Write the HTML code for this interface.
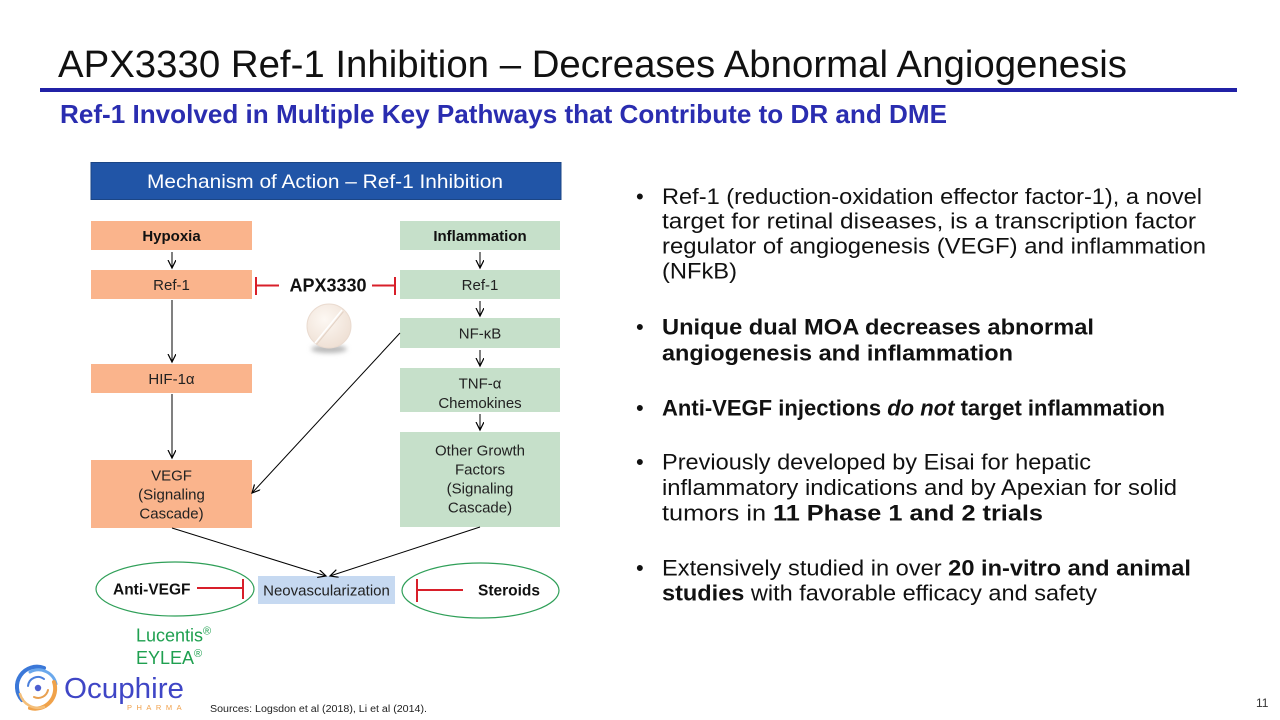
<!DOCTYPE html>
<html>
<head>
<meta charset="utf-8">
<style>
  html,body{margin:0;padding:0;background:#fff;}
  body{width:1280px;height:720px;overflow:hidden;}
  svg{display:block;font-family:"Liberation Sans",Arial,sans-serif;}
</style>
</head>
<body>
<svg width="1280" height="720" viewBox="0 0 1280 720" xmlns="http://www.w3.org/2000/svg">
  <defs>
    <marker id="ah" markerWidth="10" markerHeight="10" refX="8" refY="4" orient="auto" markerUnits="userSpaceOnUse">
      <path d="M0,0 L8,4 L0,8" fill="none" stroke="#000" stroke-width="1.2"/>
    </marker>
    <radialGradient id="pillg" cx="0.4" cy="0.35" r="0.7">
      <stop offset="0" stop-color="#fdf8f3"/>
      <stop offset="1" stop-color="#eedfd3"/>
    </radialGradient>
    <filter id="blur" x="-50%" y="-100%" width="200%" height="300%">
      <feGaussianBlur stdDeviation="2.5"/>
    </filter>
  </defs>

  <!-- Title -->
  <text x="58" y="77" font-size="38" fill="#111" textLength="1069" lengthAdjust="spacingAndGlyphs">APX3330 Ref-1 Inhibition – Decreases Abnormal Angiogenesis</text>
  <rect x="40" y="88" width="1197" height="4" fill="#2121a6"/>
  <text x="60" y="123" font-size="26" font-weight="bold" fill="#2a2db0" textLength="887" lengthAdjust="spacingAndGlyphs">Ref-1 Involved in Multiple Key Pathways that Contribute to DR and DME</text>

  <!-- Header bar -->
  <rect x="91" y="162.5" width="470" height="37" fill="#2155a7" stroke="#1b4585" stroke-width="1"/>
  <text x="147" y="188" font-size="19.5" fill="#fff" textLength="356" lengthAdjust="spacingAndGlyphs">Mechanism of Action – Ref-1 Inhibition</text>

  <!-- Boxes left (salmon) -->
  <g fill="#fab48c">
    <rect x="91" y="221" width="161" height="29"/>
    <rect x="91" y="270" width="161" height="29"/>
    <rect x="91" y="364" width="161" height="29"/>
    <rect x="91" y="460" width="161" height="68"/>
  </g>
  <!-- Boxes right (green) -->
  <g fill="#c6e0ca">
    <rect x="400" y="221" width="160" height="29"/>
    <rect x="400" y="270" width="160" height="29"/>
    <rect x="400" y="318" width="160" height="30"/>
    <rect x="400" y="368" width="160" height="44"/>
    <rect x="400" y="432" width="160" height="95"/>
  </g>
  <!-- Neovascularization -->
  <rect x="258" y="576" width="137" height="28" fill="#c6d9f1"/>

  <!-- Box texts -->
  <g font-size="15" fill="#222" text-anchor="middle">
    <text x="171.5" y="241" font-weight="bold" fill="#111">Hypoxia</text>
    <text x="480" y="241" font-weight="bold" fill="#111">Inflammation</text>
    <text x="171.5" y="290">Ref-1</text>
    <text x="480" y="290">Ref-1</text>
    <text x="480" y="338.5">NF-κB</text>
    <text x="171.5" y="384">HIF-1α</text>
    <text x="480" y="388.5">TNF-α</text>
    <text x="480" y="408">Chemokines</text>
    <text x="171.5" y="480.5">VEGF</text>
    <text x="171.5" y="499.5">(Signaling</text>
    <text x="171.5" y="518.5">Cascade)</text>
    <text x="480" y="455.5">Other Growth</text>
    <text x="480" y="474.5">Factors</text>
    <text x="480" y="493.5">(Signaling</text>
    <text x="480" y="512.5">Cascade)</text>
    <text x="326.5" y="595.5">Neovascularization</text>
  </g>

  <!-- Arrows -->
  <g stroke="#000" stroke-width="1" fill="none" marker-end="url(#ah)">
    <line x1="172" y1="252" x2="172" y2="268"/>
    <line x1="480" y1="252" x2="480" y2="268"/>
    <line x1="480" y1="301" x2="480" y2="316"/>
    <line x1="480" y1="350" x2="480" y2="366"/>
    <line x1="480" y1="414" x2="480" y2="430"/>
    <line x1="172" y1="300" x2="172" y2="362"/>
    <line x1="172" y1="394" x2="172" y2="458"/>
    <line x1="400" y1="333" x2="252" y2="493"/>
    <line x1="172" y1="528" x2="326" y2="576"/>
    <line x1="480" y1="527" x2="330" y2="576"/>
  </g>

  <!-- APX3330 -->
  <text x="328" y="291.5" font-size="18" font-weight="bold" fill="#111" text-anchor="middle">APX3330</text>
  <g stroke="#d81f2a" stroke-width="2" fill="none">
    <line x1="279" y1="285.5" x2="256" y2="285.5"/>
    <line x1="256" y1="277" x2="256" y2="295"/>
    <line x1="372" y1="285.5" x2="395" y2="285.5"/>
    <line x1="395" y1="277" x2="395" y2="295"/>
    <line x1="197" y1="588" x2="243" y2="588"/>
    <line x1="243" y1="579" x2="243" y2="599"/>
    <line x1="463" y1="590" x2="417" y2="590"/>
    <line x1="417" y1="579" x2="417" y2="602"/>
  </g>

  <!-- Pill -->
  <ellipse cx="329" cy="349" rx="18" ry="4" fill="#b9b9b9" filter="url(#blur)"/>
  <circle cx="329" cy="326" r="22" fill="url(#pillg)" stroke="#eadbd0" stroke-width="1"/>
  <line x1="342" y1="310" x2="315" y2="343" stroke="#fff" stroke-width="1.5"/>
  <line x1="343.5" y1="311.5" x2="316.5" y2="344.5" stroke="#e3d2c5" stroke-width="1"/>

  <!-- Ellipses -->
  <ellipse cx="175" cy="589" rx="79" ry="27" fill="none" stroke="#2f9f58" stroke-width="1.2"/>
  <ellipse cx="480.5" cy="590.5" rx="78.5" ry="27.5" fill="none" stroke="#2f9f58" stroke-width="1.2"/>
  <text x="113" y="594.5" font-size="15.5" font-weight="bold" fill="#111">Anti-VEGF</text>
  <text x="478" y="595.5" font-size="15.5" font-weight="bold" fill="#111">Steroids</text>

  <!-- Lucentis / EYLEA -->
  <text x="136" y="641.5" font-size="18" fill="#1fa050">Lucentis<tspan font-size="11" dy="-7">®</tspan></text>
  <text x="136" y="664" font-size="18" fill="#1fa050">EYLEA<tspan font-size="11" dy="-7">®</tspan></text>

  <!-- Bullets -->
  <g font-size="22" fill="#111">
    <text x="636" y="204" font-size="22">•</text>
    <text x="662" y="204" textLength="540" lengthAdjust="spacingAndGlyphs">Ref-1 (reduction-oxidation effector factor-1), a novel</text>
    <text x="662" y="228.5" textLength="534" lengthAdjust="spacingAndGlyphs">target for retinal diseases, is a transcription factor</text>
    <text x="662" y="253.5" textLength="544" lengthAdjust="spacingAndGlyphs">regulator of angiogenesis (VEGF) and inflammation</text>
    <text x="662" y="278.5" textLength="75" lengthAdjust="spacingAndGlyphs">(NFkB)</text>

    <text x="636" y="334.5" font-size="22">•</text>
    <text x="662" y="334.5" font-weight="bold" textLength="432" lengthAdjust="spacingAndGlyphs">Unique dual MOA decreases abnormal</text>
    <text x="662" y="360.5" font-weight="bold" textLength="351" lengthAdjust="spacingAndGlyphs">angiogenesis and inflammation</text>

    <text x="636" y="415.5" font-size="22">•</text>
    <text x="662" y="415.5" font-weight="bold" textLength="503" lengthAdjust="spacingAndGlyphs">Anti-VEGF injections <tspan font-style="italic">do not</tspan> target inflammation</text>

    <text x="636" y="469.5" font-size="22">•</text>
    <text x="662" y="469.5" textLength="429" lengthAdjust="spacingAndGlyphs">Previously developed by Eisai for hepatic</text>
    <text x="662" y="495" textLength="515" lengthAdjust="spacingAndGlyphs">inflammatory indications and by Apexian for solid</text>
    <text x="662" y="520.5" textLength="381" lengthAdjust="spacingAndGlyphs">tumors in <tspan font-weight="bold">11 Phase 1 and 2 trials</tspan></text>

    <text x="636" y="575.5" font-size="22">•</text>
    <text x="662" y="575.5" textLength="529" lengthAdjust="spacingAndGlyphs">Extensively studied in over <tspan font-weight="bold">20 in-vitro and animal</tspan></text>
    <text x="662" y="600.5" textLength="435" lengthAdjust="spacingAndGlyphs"><tspan font-weight="bold">studies</tspan> with favorable efficacy and safety</text>
  </g>

  <!-- Logo -->
  <g fill="none" stroke-linecap="round">
    <path d="M22,700 A20,20 0 0 1 44,668" stroke="#3b78d8" stroke-width="4"/>
    <path d="M30,672 A18,18 0 0 1 56,684" stroke="#6aa8ec" stroke-width="3"/>
    <path d="M54,682 A20,20 0 0 1 30,708" stroke="#f0a24a" stroke-width="4"/>
    <path d="M44,707 A19,19 0 0 1 20,694" stroke="#f4bf7a" stroke-width="2.5"/>
    <path d="M28,686 A10,10 0 0 1 44,679" stroke="#4a7fdc" stroke-width="2"/>
    <path d="M48,690 A10,10 0 0 1 34,697" stroke="#e8a050" stroke-width="2"/>
  </g>
  <circle cx="38" cy="688" r="3.2" fill="#4d5fd0"/>
  <text x="64" y="698" font-size="29" fill="#3f46c6" textLength="120" lengthAdjust="spacingAndGlyphs">Ocuphire</text>
  <text x="127" y="710" font-size="7.5" fill="#f0a04a" letter-spacing="4.5">PHARMA</text>

  <!-- Sources / page number -->
  <text x="210" y="712" font-size="10" fill="#222" textLength="217" lengthAdjust="spacingAndGlyphs">Sources: Logsdon et al (2018), Li et al (2014).</text>
  <text x="1256" y="707" font-size="12" fill="#333">11</text>
</svg>
</body>
</html>
